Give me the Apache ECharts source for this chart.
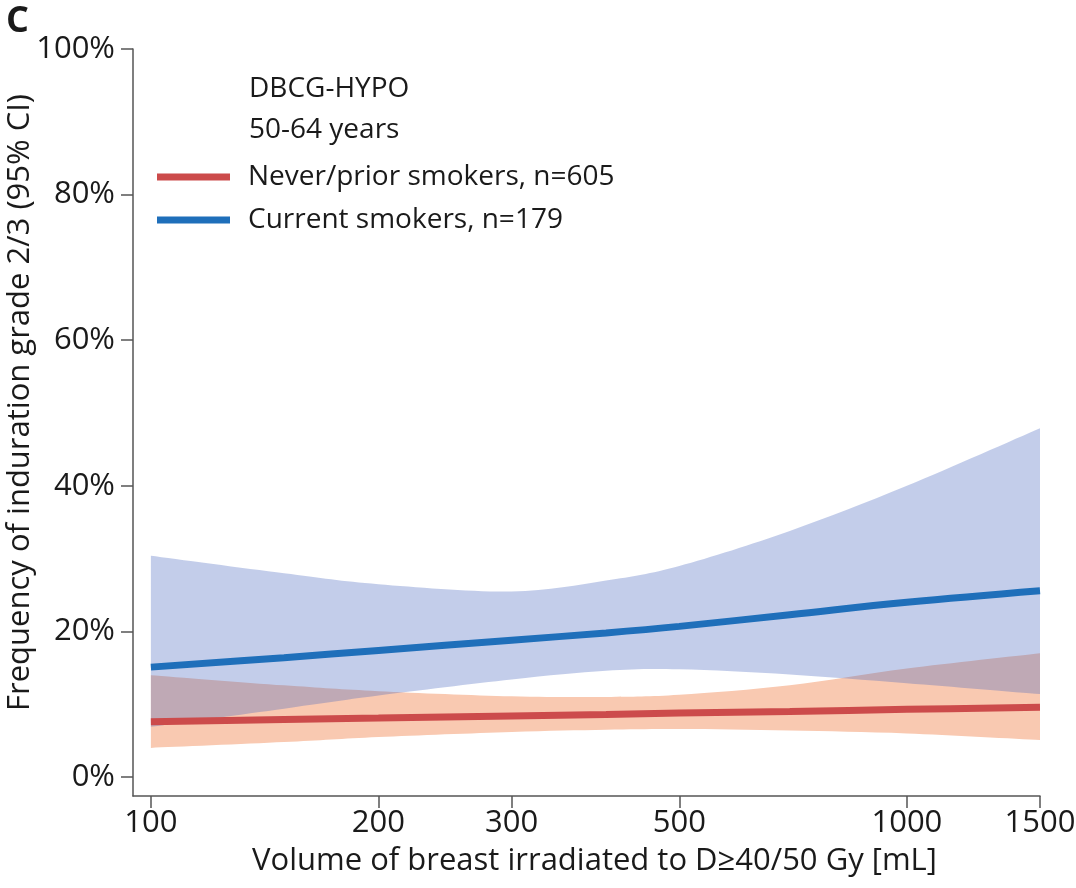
<!DOCTYPE html>
<html>
<head>
<meta charset="utf-8">
<script src="https://cdn.jsdelivr.net/npm/echarts@6/dist/echarts.min.js"></script>
<style>html,body{margin:0;padding:0;background:#fff;}#c{width:1076px;height:888px;}</style>
</head>
<body>
<div id="c"></div>
<script>
// Volume of breast irradiated (mL) – sample positions along the curves
const volumes = [100, 150, 200, 300, 400, 500, 700, 1000, 1500];
// Current smokers (%)
const currentMean  = [15.1, 16.4, 17.4, 18.8, 19.8, 20.7, 22.3, 24.0, 25.6];
const currentUpper = [30.4, 28.0, 26.5, 25.5, 27.0, 29.0, 33.8, 40.0, 47.9];
const currentLower = [6.9, 9.4, 11.2, 13.4, 14.6, 14.8, 14.1, 12.9, 11.4];
// Never/prior smokers (%)
const neverMean  = [7.6, 7.9, 8.1, 8.4, 8.6, 8.8, 9.0, 9.3, 9.6];
const neverUpper = [14.0, 12.6, 11.8, 11.1, 11.0, 11.3, 12.6, 14.9, 17.0];
const neverLower = [4.0, 4.8, 5.5, 6.2, 6.5, 6.6, 6.4, 6.0, 5.1];
// Tick labels
const xTicks = [100, 200, 300, 500, 1000, 1500];
const yTicks = [0, 20, 40, 60, 80, 100];

const FONT = 'Open Sans';
const pair = (xs, ys) => xs.map((x, i) => [x, ys[i]]);

// Catmull-Rom smoothing of a screen-space outline into cubic bezier commands
function smoothSeg(pts) {
  let d = '';
  for (let i = 0; i < pts.length - 1; i++) {
    const p0 = pts[Math.max(0, i - 1)], p1 = pts[i], p2 = pts[i + 1], p3 = pts[Math.min(pts.length - 1, i + 2)];
    const c1 = [p1[0] + (p2[0] - p0[0]) / 6, p1[1] + (p2[1] - p0[1]) / 6];
    const c2 = [p2[0] - (p3[0] - p1[0]) / 6, p2[1] - (p3[1] - p1[1]) / 6];
    d += ' C' + c1[0] + ',' + c1[1] + ' ' + c2[0] + ',' + c2[1] + ' ' + p2[0] + ',' + p2[1];
  }
  return d;
}
function bandSeries(name, upper, lower, color, opacity, z) {
  return {
    type: 'custom', name: name, silent: true, z: z, coordinateSystem: 'cartesian2d',
    data: [[volumes[0], lower[0]]],
    renderItem: function (params, api) {
      const up = volumes.map((v, i) => api.coord([v, upper[i]]));
      const lo = volumes.map((v, i) => api.coord([v, lower[i]])).reverse();
      const d = 'M' + up[0][0] + ',' + up[0][1] + smoothSeg(up) +
        ' L' + lo[0][0] + ',' + lo[0][1] + smoothSeg(lo) + ' Z';
      return {type: 'path', shape: {pathData: d}, style: {fill: color, opacity: opacity}};
    }
  };
}

const chart = echarts.init(document.getElementById('c'), null, {renderer: 'canvas'});
chart.setOption({
  animation: false,
  backgroundColor: '#ffffff',
  title: [
    {text: 'C', left: 1, top: -1, textStyle: {fontFamily: FONT, fontWeight: 'bold', fontSize: 36, color: '#1a1a1a'}},
    {text: 'DBCG-HYPO\n50-64 years', left: 244, top: 64,
     textStyle: {fontFamily: FONT, fontWeight: 'normal', fontSize: 28, lineHeight: 41, color: '#1a1a1a'}}
  ],
  legend: {
    orient: 'vertical', left: 157, top: 160, padding: 0, itemWidth: 73, itemHeight: 7, itemGap: 9,
    icon: 'rect',
    data: ['Never/prior smokers, n=605', 'Current smokers, n=179'],
    textStyle: {fontFamily: FONT, fontSize: 28, color: '#1a1a1a', lineHeight: 34, padding: [0, 0, 0, 13]}
  },
  grid: {left: 133, right: 36, top: 49, bottom: 92, containLabel: false, outerBoundsMode: 'none'},
  xAxis: {
    type: 'log', logBase: 10, min: 94.7, max: 1500,
    name: 'Volume of breast irradiated to D≥40/50 Gy [mL]',
    nameLocation: 'middle', nameGap: 50, nameMoveOverlap: false,
    nameTextStyle: {fontFamily: FONT, fontSize: 31, color: '#1a1a1a', padding: [0, 0, 0, 16]},
    axisLine: {show: true, onZero: false, lineStyle: {color: '#555', width: 1.5}},
    axisTick: {show: true, length: 12, lineStyle: {color: '#555', width: 1.5}, customValues: xTicks},
    axisLabel: {fontFamily: FONT, fontSize: 31, color: '#1a1a1a', margin: 12, customValues: xTicks,
      formatter: v => String(Math.round(v))},
    splitLine: {show: false},
    minorTick: {show: false}
  },
  yAxis: {
    type: 'value', min: -2.6, max: 100,
    name: 'Frequency of induration grade 2/3 (95% CI)',
    nameLocation: 'middle', nameGap: 97, nameMoveOverlap: false,
    nameTextStyle: {fontFamily: FONT, fontSize: 31, color: '#1a1a1a', padding: [0, 0, 0, 40]},
    axisLine: {show: true, onZero: false, lineStyle: {color: '#555', width: 1.5}},
    axisTick: {show: true, length: 12, lineStyle: {color: '#555', width: 1.5}, customValues: yTicks},
    axisLabel: {fontFamily: FONT, fontSize: 31, color: '#1a1a1a', margin: 18, customValues: yTicks,
      formatter: v => Math.round(v) + '%'},
    splitLine: {show: false}
  },
  series: [
    bandSeries('neverBand', neverUpper, neverLower, '#f9c9b1', 1, 1),
    bandSeries('currentBand', currentUpper, currentLower, '#4967bf', 0.33, 2),
    {name: 'Never/prior smokers, n=605', type: 'line', smooth: 0.4, symbol: 'none',
     data: pair(volumes, neverMean), color: '#cc4b4b', lineStyle: {color: '#cc4b4b', width: 7}, z: 3},
    {name: 'Current smokers, n=179', type: 'line', smooth: 0.4, symbol: 'none',
     data: pair(volumes, currentMean), color: '#1f6fba', lineStyle: {color: '#1f6fba', width: 7}, z: 3}
  ]
});
</script>
</body>
</html>
